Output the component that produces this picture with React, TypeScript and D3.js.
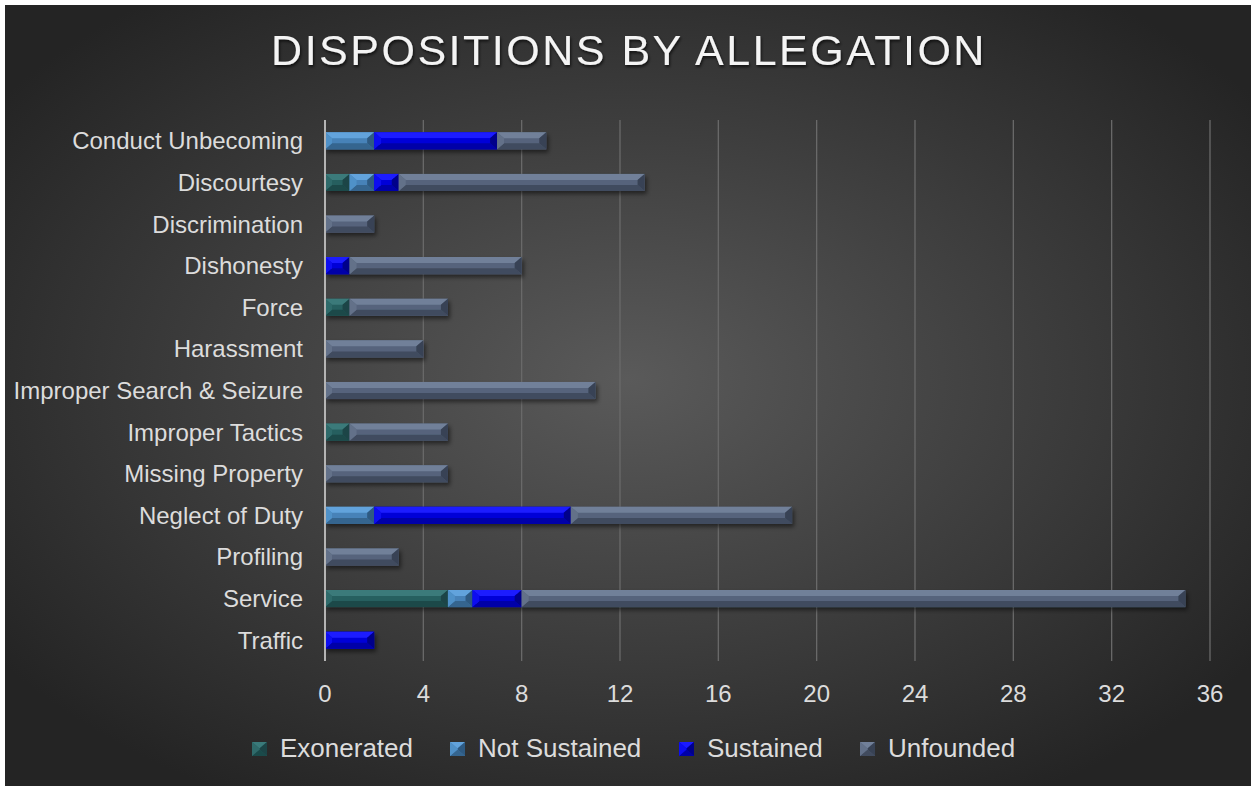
import React from 'react';
import * as d3 from 'd3';

const W = 1251;
const H = 786;

const categories = [
  'Conduct Unbecoming', 'Discourtesy', 'Discrimination', 'Dishonesty', 'Force',
  'Harassment', 'Improper Search & Seizure', 'Improper Tactics', 'Missing Property',
  'Neglect of Duty', 'Profiling', 'Service', 'Traffic',
];
const seriesNames = ['Exonerated', 'Not Sustained', 'Sustained', 'Unfounded'];
const exonerated = [0, 1, 0, 0, 1, 0, 0, 1, 0, 0, 0, 5, 0];
const notSustained = [2, 1, 0, 0, 0, 0, 0, 0, 0, 2, 0, 1, 0];
const sustained = [5, 1, 0, 1, 0, 0, 0, 0, 0, 8, 0, 2, 2];
const unfounded = [2, 10, 2, 7, 4, 4, 11, 4, 5, 9, 3, 27, 0];
const xTicks = [0, 4, 8, 12, 16, 20, 24, 28, 32, 36];

// face colours per series: [top, left, center, right, bottom]
const faces = [
  ['#3a7a7a', '#2f6a6a', '#285e5e', '#1c4446', '#1a4a4a'],
  ['#62a3dc', '#5091c8', '#4682b8', '#2e5a82', '#35658f'],
  ['#1a1aff', '#0d0df0', '#0000d8', '#00008a', '#0000a8'],
  ['#718099', '#637189', '#56647c', '#384254', '#414b5e'],
];

const App = () => {
  const x = d3.scaleLinear().domain([0, 36]).range([325, 1210]);
  const y = d3.scaleBand().domain(categories).range([120, 661]).paddingInner(0.59).paddingOuter(0.295);

  const table = categories.map((c, i) => ({
    category: c,
    Exonerated: exonerated[i],
    'Not Sustained': notSustained[i],
    Sustained: sustained[i],
    Unfounded: unfounded[i],
  }));
  const stacked = d3.stack<any>().keys(seriesNames)(table);

  const bevel = (x0: number, x1: number, y0: number, y1: number, f: string[], key: string) => {
    const w = x1 - x0;
    const b = Math.min(7, w / 2);
    const bv = Math.min(6, (y1 - y0) / 2);
    const pts = (a: number[][]) => a.map(p => p.join(',')).join(' ');
    return (
      <g key={key}>
        <rect x={x0} y={y0} width={w} height={y1 - y0} fill={f[2]} />
        <polygon points={pts([[x0, y0], [x1, y0], [x1 - b, y0 + bv], [x0 + b, y0 + bv]])} fill={f[0]} />
        <polygon points={pts([[x0, y1], [x1, y1], [x1 - b, y1 - bv], [x0 + b, y1 - bv]])} fill={f[4]} />
        <polygon points={pts([[x0, y0], [x0 + b, y0 + bv], [x0 + b, y1 - bv], [x0, y1]])} fill={f[1]} />
        <polygon points={pts([[x1, y0], [x1 - b, y0 + bv], [x1 - b, y1 - bv], [x1, y1]])} fill={f[3]} />
      </g>
    );
  };

  const legendX = [252, 450, 679, 860];

  return (
    <svg width={W} height={H} style={{ position: 'absolute', left: 0, top: 0 }}
      fontFamily="'Liberation Sans', Arial, sans-serif">
      <defs>
        <radialGradient id="bg" cx="50%" cy="48%" r="62%">
          <stop offset="0%" stopColor="#5a5a5a" />
          <stop offset="100%" stopColor="#242424" />
        </radialGradient>
        <filter id="shadow" x="-5%" y="-50%" width="110%" height="250%">
          <feDropShadow dx="2" dy="3" stdDeviation="2" floodColor="#000" floodOpacity="0.5" />
        </filter>
        <filter id="tshadow">
          <feDropShadow dx="1" dy="2" stdDeviation="1.5" floodColor="#000" floodOpacity="0.7" />
        </filter>
      </defs>
      <rect x={0} y={0} width={W} height={H} fill="#fff" />
      <rect x={5} y={5} width={W - 5} height={H - 5} fill="url(#bg)" />

      <text x={629} y={65} textAnchor="middle" fontSize={43} fill="#f4f4f4" letterSpacing={2.5}
        filter="url(#tshadow)">DISPOSITIONS BY ALLEGATION</text>

      {xTicks.map(t => (
        <g key={t}>
          {t > 0 && <line x1={x(t)} x2={x(t)} y1={120} y2={661} stroke="#6a6a6a" strokeWidth={1.3} />}
          <text x={x(t)} y={702} textAnchor="middle" fontSize={24} fill="#dcdcdc">{t}</text>
        </g>
      ))}

      {categories.map(c => (
        <text key={c} x={303} y={(y(c) as number) + y.bandwidth() / 2 + 8.5} textAnchor="end"
          fontSize={24} fill="#dcdcdc">{c}</text>
      ))}

      <g filter="url(#shadow)">
        {stacked.map((s, si) => s.map((d, i) => {
          if (d[1] - d[0] <= 0) return null;
          const yy = y(categories[i]) as number;
          return bevel(x(d[0]), x(d[1]), yy, yy + y.bandwidth(), faces[si], `${si}-${i}`);
        }))}
      </g>

      <line x1={x(0)} x2={x(0)} y1={120} y2={661} stroke="#b4b4b4" strokeWidth={2} />

      {seriesNames.map((n, i) => (
        <g key={n}>
          {bevel(legendX[i], legendX[i] + 15, 742, 756, faces[i], 'l' + i)}
          <text x={legendX[i] + 28} y={757} fontSize={26} fill="#dcdcdc">{n}</text>
        </g>
      ))}
    </svg>
  );
};

export default App;
